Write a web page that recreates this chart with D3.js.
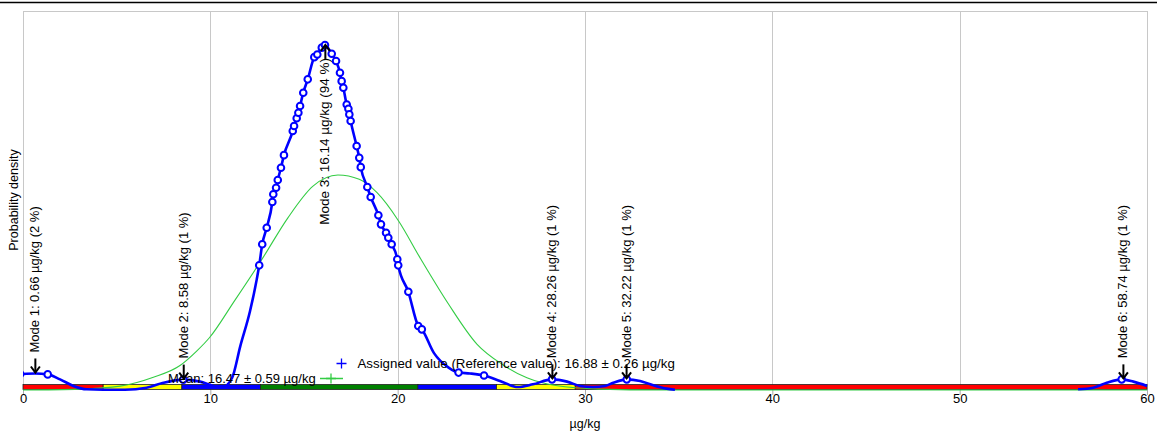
<!DOCTYPE html>
<html>
<head>
<meta charset="utf-8">
<script src="https://cdn.jsdelivr.net/npm/d3@7"></script>
<style>
  body { margin: 0; background: #fff; }
  svg { display: block; font-family: "Liberation Sans", Arial, sans-serif; }
</style>
</head>
<body>
<div id="chart"></div>
<script>
// tick values of the x axis (µg/kg)
const xTicks = [0, 10, 20, 30, 40, 50, 60];

// kernel density, two drawn pieces [x, density]
const kdeMain = [
  [0, 0.0071], [0.64, 0.0073], [1.32, 0.0069], [1.98, 0.0047], [2.69, 0.0018], [3.40, 0.0003],
  [4.27, 0.0001], [5.44, 0.0001], [6.60, 0.0010], [7.49, 0.0032], [8.56, 0.0046], [9.45, 0.0037],
  [10.16, 0.0018], [10.62, 0.0011], [11.16, 0.0053], [11.60, 0.0194], [12.12, 0.0349], [12.48, 0.0490],
  [12.61, 0.0551], [12.77, 0.0644], [13.01, 0.0717], [13.31, 0.0831], [13.36, 0.0865], [13.51, 0.0894],
  [13.60, 0.0928], [13.77, 0.0982], [13.93, 0.1038], [14.40, 0.1145], [14.47, 0.1167], [14.61, 0.1201],
  [14.70, 0.1225], [14.79, 0.1255], [14.96, 0.1314], [15.20, 0.1373], [15.55, 0.1471], [15.71, 0.1483],
  [15.95, 0.1513], [16.12, 0.1525], [16.48, 0.1486], [16.71, 0.1454], [16.92, 0.1402], [17.01, 0.1365],
  [17.10, 0.1336], [17.28, 0.1262], [17.37, 0.1243], [17.42, 0.1218], [17.49, 0.1189], [17.81, 0.1078],
  [17.95, 0.1026], [18.03, 0.0985], [18.38, 0.0897], [18.56, 0.0853], [18.97, 0.0772], [19.11, 0.0732],
  [19.38, 0.0695], [19.50, 0.0673], [19.68, 0.0644], [19.98, 0.0578], [20.03, 0.0551], [20.57, 0.0434],
  [21.10, 0.0283], [21.29, 0.0268], [21.94, 0.0163], [22.72, 0.0099], [23.25, 0.0077], [23.86, 0.0073],
  [24.61, 0.0064], [25.46, 0.0040], [26.42, 0.0013], [27.22, 0.0025], [28.24, 0.0047], [29.04, 0.0037],
  [29.73, 0.0018], [30.43, 0.0013], [31.07, 0.0018], [31.51, 0.0032], [32.23, 0.0047], [32.94, 0.0040],
  [33.65, 0.0021], [34.36, 0.0006], [34.80, 0.0001]
];
const kdeTail = [
  [56.32, 0.0003], [57.13, 0.0010], [57.85, 0.0032], [58.65, 0.0047], [59.27, 0.0037], [60, 0.0018]
];

// reported results, shown as circles on the density
const results = [
  [-0.15, 0.0071],
  [1.32, 0.0069], [8.56, 0.0046], [12.61, 0.0551], [12.77, 0.0644], [13.01, 0.0717], [13.31, 0.0831],
  [13.36, 0.0865], [13.51, 0.0894], [13.60, 0.0928], [13.77, 0.0982], [13.93, 0.1038], [14.40, 0.1145],
  [14.47, 0.1167], [14.61, 0.1201], [14.70, 0.1225], [14.79, 0.1255], [14.96, 0.1314], [15.20, 0.1373],
  [15.55, 0.1471], [15.71, 0.1483], [15.95, 0.1513], [16.12, 0.1525], [16.48, 0.1486], [16.71, 0.1454],
  [16.92, 0.1402], [17.01, 0.1365], [17.10, 0.1336], [17.28, 0.1262], [17.37, 0.1243], [17.42, 0.1218],
  [17.49, 0.1189], [17.81, 0.1078], [17.95, 0.1026], [18.03, 0.0985], [18.38, 0.0897], [18.56, 0.0853],
  [18.97, 0.0772], [19.11, 0.0732], [19.38, 0.0695], [19.50, 0.0673], [19.68, 0.0644], [19.98, 0.0578],
  [20.03, 0.0551], [20.57, 0.0434], [21.10, 0.0283], [21.29, 0.0268], [23.25, 0.0077], [24.61, 0.0064],
  [28.24, 0.0047], [32.23, 0.0047], [58.65, 0.0047]
];

// normal curve (green)
const normalCurve = [
  [0, 0], [3.04, 0.0004], [5.18, 0.0017], [6.96, 0.0056], [8.38, 0.0108], [9.27, 0.0172], [9.95, 0.0231],
  [11.28, 0.0393], [12.81, 0.0585], [14.14, 0.0761], [15.48, 0.0901], [16.81, 0.0950], [17.95, 0.0931],
  [18.90, 0.0872], [20.05, 0.0747], [21.19, 0.0585], [22.72, 0.0379], [24.24, 0.0202], [25.57, 0.0114],
  [26.90, 0.0054], [28.44, 0.0020], [30.80, 0.0004], [34, 0], [60, 0]
];

// modes
const modeX = [0.66, 8.58, 16.14, 28.26, 32.22, 58.74];
const modeDensity = [0.0073, 0.0046, 0.1525, 0.0047, 0.0047, 0.0047];
const modeShare = [2, 1, 94, 1, 1, 1];

// z-score zones of the bar under the plot
const zoneEdges = [0, 4.28, 8.48, 12.68, 21.08, 25.28, 29.48, 60];
const zoneLevel = [3, 2, 1, 0, 1, 2, 3];

const assigned = 16.88, assignedU = 0.26;
const mean = 16.47, meanU = 0.59;

const width = 1157, height = 432,
    fontFamily = "Liberation Sans, Arial, sans-serif";

const x = d3.scaleLinear().domain([0, 60]).range([23, 1147]);
const y = d3.scaleLinear().domain([0, 0.1675]).range([390, 11]);
const zoneColor = d3.scaleOrdinal().domain([0, 1, 2, 3]).range(["#008000", "#0000ff", "#ffff00", "#ff0000"]);

const svg = d3.select("#chart").append("svg")
    .attr("width", width)
    .attr("height", height);

svg.append("rect").attr("width", width).attr("height", height).attr("fill", "#fff");

svg.append("clipPath").attr("id", "plot-clip")
    .append("rect")
    .attr("x", x(0)).attr("y", 0)
    .attr("width", x(60) - x(0) + 4).attr("height", 400);

// black rule at the very top
svg.append("line")
    .attr("x1", 0).attr("x2", width).attr("y1", 2.5).attr("y2", 2.5)
    .attr("stroke", "#000").attr("stroke-width", 1.5);

// frame + grid
svg.append("line")
    .attr("x1", x(0)).attr("x2", x(60)).attr("y1", 11.5).attr("y2", 11.5)
    .attr("stroke", "#c8c8c8");
svg.append("g").selectAll("line")
    .data(xTicks)
    .enter().append("line")
    .attr("x1", d => Math.round(x(d)) + 0.5)
    .attr("x2", d => Math.round(x(d)) + 0.5)
    .attr("y1", 11)
    .attr("y2", 390)
    .attr("stroke", "#c8c8c8");

// x axis
const axis = svg.append("g")
    .attr("transform", "translate(0,390)")
    .call(d3.axisBottom(x).tickValues(xTicks).tickSize(5).tickPadding(-1.5));
axis.select(".domain").remove();
axis.selectAll(".tick line").attr("stroke", "#aaa");
axis.selectAll(".tick text")
    .style("font-size", "13px")
    .style("font-family", fontFamily)
    .attr("fill", "#000");

svg.append("text")
    .attr("x", x(30))
    .attr("y", 428)
    .attr("text-anchor", "middle")
    .style("font-size", "12.5px")
    .text("µg/kg");

svg.append("text")
    .attr("transform", "translate(18,200) rotate(-90)")
    .attr("text-anchor", "middle")
    .style("font-size", "12.5px")
    .text("Probability density");

// zone bar
svg.append("g").selectAll("rect")
    .data(zoneLevel)
    .enter().append("rect")
    .attr("x", (d, i) => x(zoneEdges[i]))
    .attr("width", (d, i) => x(zoneEdges[i + 1]) - x(zoneEdges[i]))
    .attr("y", 384.5)
    .attr("height", 5)
    .attr("fill", d => zoneColor(d))
    .attr("stroke", "#222")
    .attr("stroke-width", 0.8);

// green normal curve
const line = d3.line()
    .x(d => x(d[0]))
    .y(d => y(d[1]))
    .curve(d3.curveMonotoneX);

svg.append("path")
    .datum(normalCurve)
    .attr("d", line)
    .attr("fill", "none")
    .attr("stroke", "#33cc44")
    .attr("stroke-width", 1.1);

// kernel density
[kdeMain, kdeTail].forEach(part => {
    svg.append("path")
        .datum(part)
        .attr("d", line)
        .attr("fill", "none")
        .attr("stroke", "#0000ff")
        .attr("stroke-width", 2.6)
        .attr("stroke-linejoin", "round");
});

svg.append("g")
    .attr("clip-path", "url(#plot-clip)")
    .selectAll("circle")
    .data(results)
    .enter().append("circle")
    .attr("cx", d => x(d[0]))
    .attr("cy", d => y(d[1]))
    .attr("r", 3.3)
    .attr("fill", "#fff")
    .attr("stroke", "#0000ff")
    .attr("stroke-width", 2);

// mode arrows + labels
const modes = svg.append("g");
modeX.forEach((m, i) => {
    const px = x(m), py = y(modeDensity[i]);
    const label = "Mode " + (i + 1) + ": " + m.toFixed(2) + " µg/kg (" + modeShare[i] + " %)";
    const below = py < 200; // no room above the tall peak
    const g = modes.append("g").attr("stroke", "#000").attr("stroke-width", 2).attr("fill", "none");
    if (below) {
        g.append("line").attr("x1", px).attr("x2", px).attr("y1", py + 14).attr("y2", py);
        g.append("path").attr("d", "M" + (px - 4.5) + "," + (py + 6) + "L" + px + "," + py + "L" + (px + 4.5) + "," + (py + 6));
        modes.append("text")
            .attr("transform", "translate(" + (px + 4) + "," + (py + 13) + ") rotate(-90)")
            .attr("text-anchor", "end")
            .style("font-size", "13.5px")
            .text(label);
    } else {
        g.append("line").attr("x1", px).attr("x2", px).attr("y1", py - 15).attr("y2", py - 1);
        g.append("path").attr("d", "M" + (px - 4.5) + "," + (py - 7) + "L" + px + "," + (py - 1) + "L" + (px + 4.5) + "," + (py - 7));
        modes.append("text")
            .attr("transform", "translate(" + (px + 4) + "," + (py - 21) + ") rotate(-90)")
            .attr("text-anchor", "start")
            .style("font-size", "13px")
            .text(label);
    }
});

// legends
function plus(cx, cy, color) {
    svg.append("path")
        .attr("d", "M" + (cx - 5) + "," + cy + "H" + (cx + 5) + "M" + cx + "," + (cy - 5) + "V" + (cy + 5))
        .attr("stroke", color).attr("stroke-width", 1.3);
}
plus(341.5, 363.5, "#0000ff");
svg.append("text")
    .attr("x", 357.5).attr("y", 368)
    .style("font-size", "13.3px")
    .text("Assigned value (Reference value): " + assigned.toFixed(2) + " ± " + assignedU.toFixed(2) + " µg/kg");

svg.append("text")
    .attr("x", 168).attr("y", 382.5)
    .style("font-size", "13px")
    .text("Mean: " + mean.toFixed(2) + " ± " + meanU.toFixed(2) + " µg/kg");
svg.append("line")
    .attr("x1", 320).attr("x2", 343).attr("y1", 378.5).attr("y2", 378.5)
    .attr("stroke", "#33cc44").attr("stroke-width", 1.5);
plus(331, 378.5, "#33cc44");
</script>
</body>
</html>
